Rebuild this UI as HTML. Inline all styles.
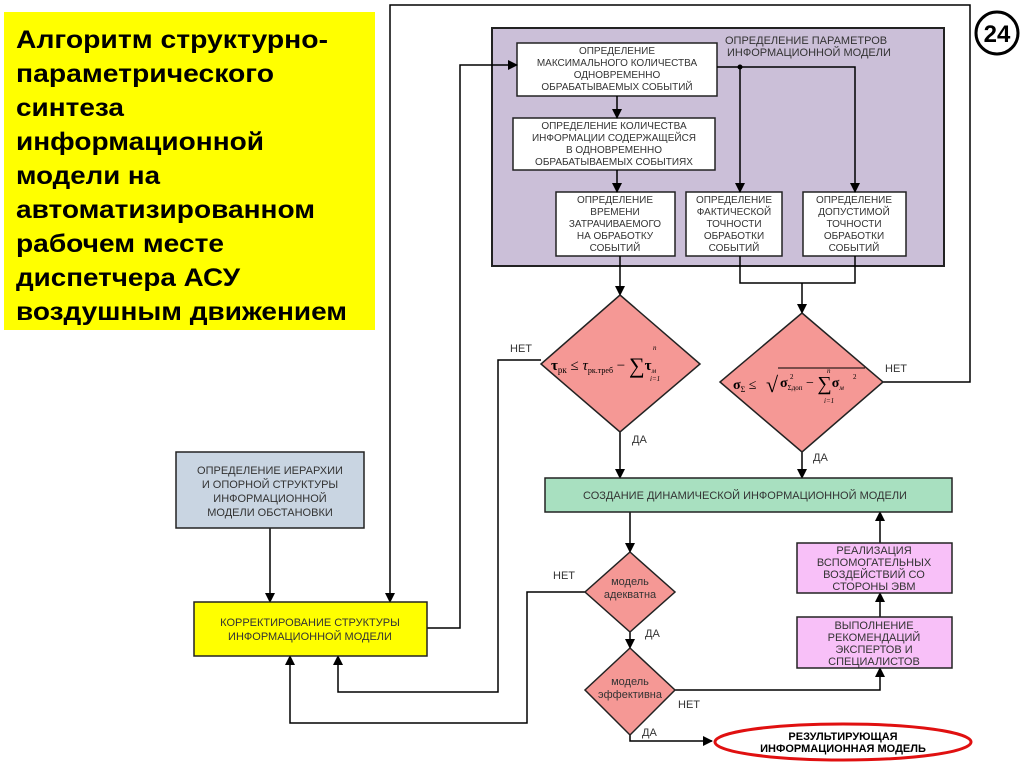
<!DOCTYPE html>
<html><head><meta charset="utf-8"><style>
html,body{margin:0;padding:0;background:#fff;}
svg{display:block;}
.b{font-family:"Liberation Sans",sans-serif;font-size:10px;fill:#333;text-anchor:middle;}
.l{font-family:"Liberation Sans",sans-serif;font-size:11px;fill:#333;}
.f{font-family:"Liberation Serif",serif;fill:#000;}
</style></head><body>
<svg width="1024" height="768" viewBox="0 0 1024 768" xmlns="http://www.w3.org/2000/svg">
<defs><marker id="a" markerWidth="10" markerHeight="10" refX="9" refY="5" orient="auto" markerUnits="userSpaceOnUse"><path d="M0,0 L10,5 L0,10 z" fill="#000"/></marker></defs>
<rect width="1024" height="768" fill="#fff"/>
<!-- title -->
<rect x="4" y="12" width="371" height="318" fill="#ffff00"/>
<g font-family="Liberation Sans,sans-serif" font-weight="bold" font-size="25" fill="#000">
<text x="16" y="48" textLength="312" lengthAdjust="spacingAndGlyphs">Алгоритм структурно-</text>
<text x="16" y="82" textLength="258" lengthAdjust="spacingAndGlyphs">параметрического</text>
<text x="16" y="116" textLength="108" lengthAdjust="spacingAndGlyphs">синтеза</text>
<text x="16" y="150" textLength="248" lengthAdjust="spacingAndGlyphs">информационной</text>
<text x="16" y="184" textLength="144" lengthAdjust="spacingAndGlyphs">модели на</text>
<text x="16" y="218" textLength="299" lengthAdjust="spacingAndGlyphs">автоматизированном</text>
<text x="16" y="252" textLength="208" lengthAdjust="spacingAndGlyphs">рабочем месте</text>
<text x="16" y="286" textLength="224" lengthAdjust="spacingAndGlyphs">диспетчера АСУ</text>
<text x="16" y="320" textLength="331" lengthAdjust="spacingAndGlyphs">воздушным движением</text>
</g>
<!-- number -->
<circle cx="997" cy="33" r="21" fill="#fff" stroke="#000" stroke-width="3"/>
<text x="997" y="42" font-family="Liberation Sans,sans-serif" font-weight="bold" font-size="24" text-anchor="middle">24</text>
<!-- purple -->
<rect x="492" y="28" width="452" height="238" fill="#cbbfd8" stroke="#222" stroke-width="2"/>
<text class="l" x="725" y="44" font-size="11" fill="#444">ОПРЕДЕЛЕНИЕ ПАРАМЕТРОВ</text>
<text class="l" x="727" y="56" font-size="11" fill="#444">ИНФОРМАЦИОННОЙ МОДЕЛИ</text>
<g fill="#fff" stroke="#222" stroke-width="1.5">
<rect x="517" y="43" width="200" height="53"/>
<rect x="513" y="118" width="202" height="52"/>
<rect x="556" y="192" width="119" height="64"/>
<rect x="686" y="192" width="96" height="64"/>
<rect x="803" y="192" width="103" height="64"/>
</g>
<text class="b" x="617" y="54">ОПРЕДЕЛЕНИЕ</text>
<text class="b" x="617" y="66">МАКСИМАЛЬНОГО КОЛИЧЕСТВА</text>
<text class="b" x="617" y="78">ОДНОВРЕМЕННО</text>
<text class="b" x="617" y="90">ОБРАБАТЫВАЕМЫХ СОБЫТИЙ</text>
<text class="b" x="614" y="129">ОПРЕДЕЛЕНИЕ КОЛИЧЕСТВА</text>
<text class="b" x="614" y="141">ИНФОРМАЦИИ СОДЕРЖАЩЕЙСЯ</text>
<text class="b" x="614" y="153">В ОДНОВРЕМЕННО</text>
<text class="b" x="614" y="165">ОБРАБАТЫВАЕМЫХ  СОБЫТИЯХ</text>
<text class="b" x="615" y="203">ОПРЕДЕЛЕНИЕ</text>
<text class="b" x="615" y="215">ВРЕМЕНИ</text>
<text class="b" x="615" y="227">ЗАТРАЧИВАЕМОГО</text>
<text class="b" x="615" y="239">НА ОБРАБОТКУ</text>
<text class="b" x="615" y="251">СОБЫТИЙ</text>
<text class="b" x="734" y="203">ОПРЕДЕЛЕНИЕ</text>
<text class="b" x="734" y="215">ФАКТИЧЕСКОЙ</text>
<text class="b" x="734" y="227">ТОЧНОСТИ</text>
<text class="b" x="734" y="239">ОБРАБОТКИ</text>
<text class="b" x="734" y="251">СОБЫТИЙ</text>
<text class="b" x="854" y="203">ОПРЕДЕЛЕНИЕ</text>
<text class="b" x="854" y="215">ДОПУСТИМОЙ</text>
<text class="b" x="854" y="227">ТОЧНОСТИ</text>
<text class="b" x="854" y="239">ОБРАБОТКИ</text>
<text class="b" x="854" y="251">СОБЫТИЙ</text>
<!-- connectors -->
<g stroke="#000" stroke-width="1.5" fill="none">
<line x1="617" y1="96" x2="617" y2="118" marker-end="url(#a)"/>
<line x1="617" y1="170" x2="617" y2="192" marker-end="url(#a)"/>
<polyline points="717,67 855,67 855,192" marker-end="url(#a)"/>
<line x1="740" y1="67" x2="740" y2="192" marker-end="url(#a)"/>
<line x1="620" y1="256" x2="620" y2="295" marker-end="url(#a)"/>
<polyline points="740,256 740,283 855,283 855,256"/>
<line x1="802" y1="283" x2="802" y2="313" marker-end="url(#a)"/>
<polyline points="883,382 970,382 970,5 390,5 390,602" marker-end="url(#a)"/>
<polyline points="427,628 460,628 460,65 517,65" marker-end="url(#a)"/>
<polyline points="541,360 498,360 498,692 338,692 338,656" marker-end="url(#a)"/>
<line x1="270" y1="528" x2="270" y2="602" marker-end="url(#a)"/>
<line x1="620" y1="432" x2="620" y2="478" marker-end="url(#a)"/>
<line x1="802" y1="452" x2="802" y2="478" marker-end="url(#a)"/>
<line x1="630" y1="512" x2="630" y2="552" marker-end="url(#a)"/>
<polyline points="585,592 527,592 527,723 290,723 290,656" marker-end="url(#a)"/>
<line x1="630" y1="632" x2="630" y2="648" marker-end="url(#a)"/>
<polyline points="675,690 880,690 880,668" marker-end="url(#a)"/>
<line x1="880" y1="617" x2="880" y2="593" marker-end="url(#a)"/>
<line x1="880" y1="543" x2="880" y2="512" marker-end="url(#a)"/>
<polyline points="630,735 630,741 712,741" marker-end="url(#a)"/>
</g>
<circle cx="740" cy="67" r="2.5" fill="#000"/>
<!-- diamonds -->
<g fill="#f59895" stroke="#222" stroke-width="1.5">
<polygon points="620,295 700,364 620,432 541,364"/>
<polygon points="802,313 883,382 802,452 720,382"/>
<polygon points="630,552 675,592 630,632 585,592"/>
<polygon points="630,648 675,690 630,735 585,690"/>
</g>
<!-- formulas -->
<text class="f" x="551" y="370" font-size="15" font-weight="bold">τ<tspan font-size="9" dy="3" font-weight="normal">рк</tspan><tspan dy="-3" font-weight="normal"> ≤ </tspan><tspan font-style="italic" font-weight="normal">τ</tspan><tspan font-size="8" dy="3" font-weight="normal">рк.треб</tspan><tspan dy="-3" font-weight="normal"> − </tspan><tspan font-size="22" dy="3" font-weight="normal">∑</tspan><tspan dy="-3">τ</tspan><tspan font-size="7" dy="3" font-style="italic" font-weight="normal">м</tspan></text>
<text class="f" x="653" y="350" font-size="7" font-style="italic">n</text>
<text class="f" x="650" y="381" font-size="7" font-style="italic">i=1</text>
<text class="f" x="733" y="389" font-size="14" font-weight="bold">σ<tspan font-size="8" dy="3" font-weight="normal">Σ</tspan><tspan dy="-3" font-weight="normal"> ≤ </tspan></text>
<text class="f" x="766" y="392" font-size="22">√</text>
<line x1="778" y1="368" x2="865" y2="368" stroke="#000" stroke-width="1"/>
<text class="f" x="780" y="387" font-size="14" font-weight="bold">σ<tspan font-size="7" dy="3" font-weight="normal">Σдоп</tspan><tspan dy="-3" font-weight="normal"> − </tspan><tspan font-size="20" dy="3" font-weight="normal">∑</tspan><tspan dy="-3">σ</tspan><tspan font-size="7" dy="3" font-style="italic" font-weight="normal">м</tspan></text>
<text class="f" x="790" y="379" font-size="7">2</text>
<text class="f" x="853" y="379" font-size="7">2</text>
<text class="f" x="827" y="373" font-size="7" font-style="italic">n</text>
<text class="f" x="824" y="403" font-size="7" font-style="italic">i=1</text>
<!-- labels -->
<text class="l" x="510" y="352">НЕТ</text>
<text class="l" x="885" y="372">НЕТ</text>
<text class="l" x="632" y="443">ДА</text>
<text class="l" x="813" y="461">ДА</text>
<text class="l" x="553" y="579">НЕТ</text>
<text class="l" x="645" y="637">ДА</text>
<text class="l" x="678" y="708">НЕТ</text>
<text class="l" x="642" y="736">ДА</text>
<!-- boxes lower -->
<rect x="176" y="452" width="188" height="76" fill="#c9d5e2" stroke="#222" stroke-width="1.5"/>
<text class="l" x="270" y="474" text-anchor="middle">ОПРЕДЕЛЕНИЕ ИЕРАРХИИ</text>
<text class="l" x="270" y="488" text-anchor="middle">И ОПОРНОЙ СТРУКТУРЫ</text>
<text class="l" x="270" y="502" text-anchor="middle">ИНФОРМАЦИОННОЙ</text>
<text class="l" x="270" y="516" text-anchor="middle">МОДЕЛИ ОБСТАНОВКИ</text>
<rect x="194" y="602" width="233" height="54" fill="#ffff00" stroke="#222" stroke-width="1.5"/>
<text class="l" x="310" y="626" text-anchor="middle">КОРРЕКТИРОВАНИЕ СТРУКТУРЫ</text>
<text class="l" x="310" y="640" text-anchor="middle">ИНФОРМАЦИОННОЙ МОДЕЛИ</text>
<rect x="545" y="478" width="407" height="34" fill="#a8e0c0" stroke="#222" stroke-width="1.5"/>
<text class="l" x="745" y="499" text-anchor="middle">СОЗДАНИЕ ДИНАМИЧЕСКОЙ ИНФОРМАЦИОННОЙ МОДЕЛИ</text>
<rect x="797" y="543" width="155" height="50" fill="#f8c0f8" stroke="#222" stroke-width="1.5"/>
<text class="l" x="874" y="554" text-anchor="middle">РЕАЛИЗАЦИЯ</text>
<text class="l" x="874" y="566" text-anchor="middle">ВСПОМОГАТЕЛЬНЫХ</text>
<text class="l" x="874" y="578" text-anchor="middle">ВОЗДЕЙСТВИЙ СО</text>
<text class="l" x="874" y="590" text-anchor="middle">СТОРОНЫ ЭВМ</text>
<rect x="797" y="617" width="155" height="51" fill="#f8c0f8" stroke="#222" stroke-width="1.5"/>
<text class="l" x="874" y="629" text-anchor="middle">ВЫПОЛНЕНИЕ</text>
<text class="l" x="874" y="641" text-anchor="middle">РЕКОМЕНДАЦИЙ</text>
<text class="l" x="874" y="653" text-anchor="middle">ЭКСПЕРТОВ И</text>
<text class="l" x="874" y="665" text-anchor="middle">СПЕЦИАЛИСТОВ</text>
<text class="l" x="630" y="585" text-anchor="middle">модель</text>
<text class="l" x="630" y="598" text-anchor="middle">адекватна</text>
<text class="l" x="630" y="685" text-anchor="middle">модель</text>
<text class="l" x="630" y="698" text-anchor="middle">эффективна</text>
<ellipse cx="843" cy="742" rx="128" ry="18" fill="#fff" stroke="#e01010" stroke-width="3"/>
<text x="843" y="740" font-family="Liberation Sans,sans-serif" font-weight="bold" font-size="11" text-anchor="middle">РЕЗУЛЬТИРУЮЩАЯ</text>
<text x="843" y="752" font-family="Liberation Sans,sans-serif" font-weight="bold" font-size="11" text-anchor="middle">ИНФОРМАЦИОННАЯ МОДЕЛЬ</text>
</svg>
</body></html>
